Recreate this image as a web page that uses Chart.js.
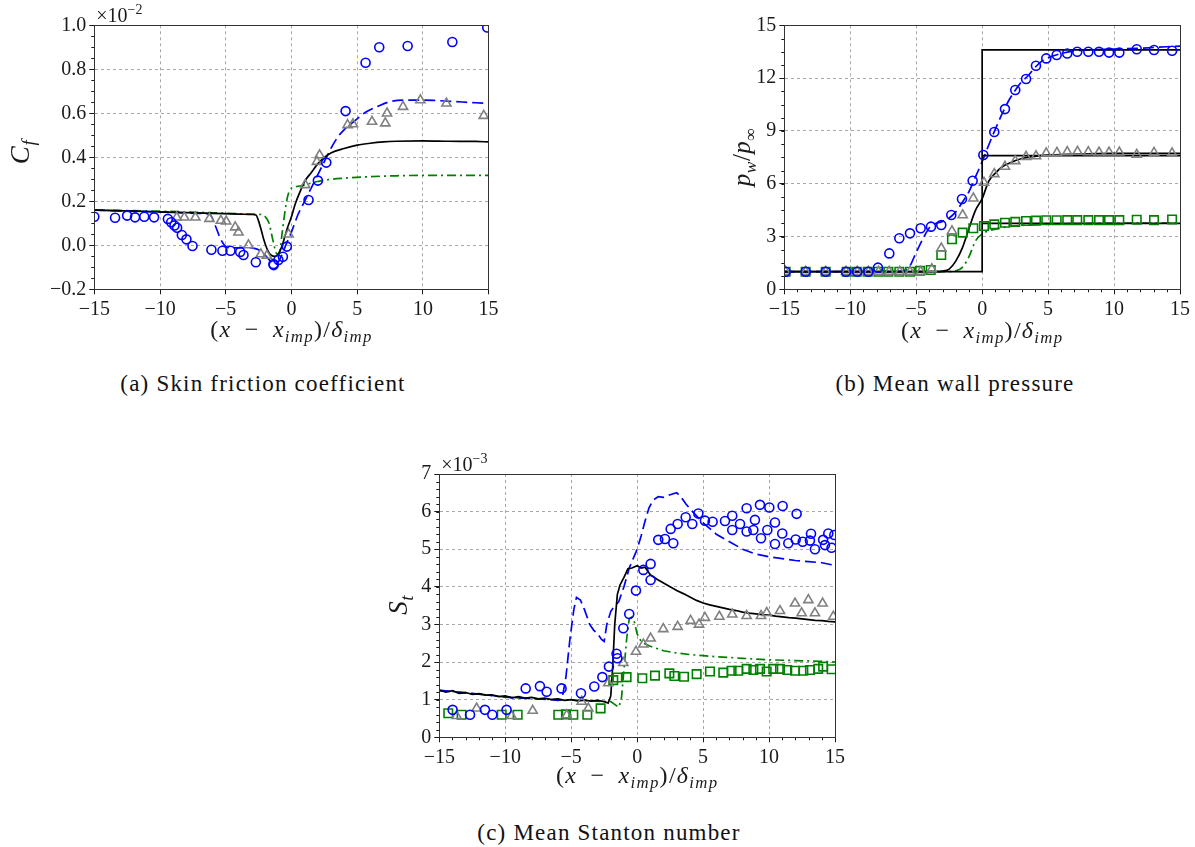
<!DOCTYPE html>
<html lang="en">
<head>
<meta charset="UTF-8">
<title>Skin friction, wall pressure and Stanton number</title>
<script src="https://cdn.jsdelivr.net/npm/chart.js"></script>
<style>
  body { margin: 0; width: 1195px; height: 847px; background: #fff; position: relative; overflow: hidden; }
  canvas { position: absolute; }
  .caption {
    position: absolute; transform: translateX(-50%); white-space: nowrap;
    font-family: 'Liberation Serif', serif; font-size: 23px; letter-spacing: 1.2px; color: #111;
  }
</style>
</head>
<body>
<canvas id="cf" width="505" height="350" style="left:0;top:0"></canvas>
<canvas id="pw" width="505" height="350" style="left:690px;top:0"></canvas>
<canvas id="st" width="510" height="370" style="left:345px;top:440px"></canvas>
<div class="caption" style="left:263px;top:371px">(a) Skin friction coefficient</div>
<div class="caption" style="left:955px;top:371px">(b) Mean wall pressure</div>
<div class="caption" style="left:609px;top:820px">(c) Mean Stanton number</div>

<script>
// ---- (a) skin friction coefficient, x1e-2 ----
const cfSolidX = [-15, -12, -9, -6, -4, -3, -2.7, -2.5, -2.3, -2.1, -1.9, -1.7, -1.5, -1.3, -1.1, -0.9, -0.7, -0.5, -0.3, 0, 0.3, 0.7, 1.0, 1.5, 2, 2.5, 3, 4, 5, 6, 7, 8, 10, 12, 14, 15];
const cfSolidY = [0.16, 0.155, 0.15, 0.145, 0.142, 0.14, 0.138, 0.11, 0.07, 0.025, -0.01, -0.035, -0.046, -0.05, -0.047, -0.03, 0.0, 0.04, 0.08, 0.13, 0.19, 0.25, 0.29, 0.33, 0.37, 0.4, 0.42, 0.44, 0.455, 0.464, 0.47, 0.473, 0.475, 0.473, 0.472, 0.47];
const cfDashX = [-15, -12, -9, -7, -6.2, -5.8, -5.4, -5.0, -4.5, -4, -3.5, -3, -2.5, -2, -1.6, -1.3, -1.0, -0.7, -0.4, 0, 0.5, 1, 1.5, 2, 2.5, 3, 3.5, 4, 4.5, 5, 5.7, 6.5, 7.5, 9, 10, 11, 12.5, 14, 15];
const cfDashY = [0.16, 0.155, 0.15, 0.145, 0.14, 0.09, 0.03, -0.005, -0.012, -0.012, -0.01, -0.012, -0.02, -0.045, -0.072, -0.085, -0.075, -0.04, 0.005, 0.06, 0.14, 0.2, 0.26, 0.32, 0.38, 0.44, 0.49, 0.525, 0.55, 0.575, 0.607, 0.63, 0.653, 0.66, 0.66, 0.658, 0.653, 0.648, 0.645];
const cfDashDotX = [-15, -10, -6, -3, -2.3, -2.0, -1.7, -1.4, -1.1, -0.9, -0.7, -0.5, -0.3, 0, 0.5, 1, 2, 3, 4, 6, 8, 10, 12, 15];
const cfDashDotY = [0.16, 0.155, 0.148, 0.142, 0.14, 0.13, 0.1, 0.02, -0.04, -0.03, 0.06, 0.15, 0.22, 0.26, 0.268, 0.275, 0.29, 0.3, 0.305, 0.312, 0.316, 0.318, 0.318, 0.318];
const cfCircleX = [-15, -13.42, -12.5, -11.9, -11.2, -10.45, -9.4, -9.15, -8.9, -8.7, -8.34, -7.99, -7.53, -6.09, -5.25, -4.64, -3.9, -3.65, -2.71, -1.37, -1.35, -0.99, -0.65, -0.35, 1.3, 2.01, 2.65, 4.12, 5.64, 6.68, 8.84, 12.24, 14.9];
const cfCircleY = [0.13, 0.125, 0.135, 0.127, 0.13, 0.127, 0.12, 0.105, 0.09, 0.08, 0.047, 0.027, -0.003, -0.02, -0.025, -0.025, -0.03, -0.044, -0.077, -0.085, -0.09, -0.067, -0.052, -0.006, 0.206, 0.294, 0.376, 0.61, 0.83, 0.9, 0.906, 0.924, 0.99];
const cfTriangleX = [-8.73, -8.15, -7.31, -6.24, -5.37, -4.97, -4.28, -4.03, -3.27, -2.33, -1.87, -0.22, 1.05, 1.94, 2.14, 4.27, 4.68, 6.13, 7.14, 7.27, 8.49, 9.81, 11.79, 14.63];
const cfTriangleY = [0.127, 0.127, 0.127, 0.121, 0.112, 0.109, 0.082, 0.059, 0.001, -0.04, -0.047, 0.05, 0.274, 0.38, 0.41, 0.547, 0.551, 0.562, 0.555, 0.6, 0.63, 0.66, 0.645, 0.589];

// ---- (b) mean wall pressure ----
const pwStepX = [-15, 0, 0, 15];
const pwStepY = [1, 1, 13.6, 13.6];
const pwStepMidX = [0, 15];
const pwStepMidY = [7.6, 7.6];
const pwStepLowX = [0, 15];
const pwStepLowY = [3.75, 3.75];
const pwSolidX = [-15, -6, -3.5, -3, -2.5, -2, -1.5, -1, -0.5, 0, 0.5, 1, 1.5, 2, 3, 4, 5, 6, 8, 10, 15];
const pwSolidY = [1, 1, 1.0, 1.03, 1.15, 1.6, 2.35, 3.45, 4.5, 5.15, 6.15, 6.6, 6.95, 7.15, 7.43, 7.55, 7.62, 7.66, 7.7, 7.72, 7.72];
const pwDashX = [-15, -9, -6.5, -6, -5.5, -5, -4.4, -4, -3.5, -3, -2.5, -2, -1.5, -1, -0.5, 0, 0.5, 1, 1.5, 2, 2.5, 3, 3.5, 4, 4.5, 5, 6, 7, 8, 10, 12, 14, 15];
const pwDashY = [1, 1, 1, 1.05, 1.3, 2.1, 3.0, 3.5, 3.75, 3.85, 4.05, 4.4, 4.95, 5.55, 6.4, 7.25, 8.2, 9.1, 9.95, 10.7, 11.3, 11.8, 12.15, 12.6, 12.95, 13.15, 13.4, 13.55, 13.6, 13.65, 13.7, 13.78, 13.82];
const pwDashDotX = [-15, -6, -3, -2.5, -2, -1.5, -1, -0.5, 0, 0.5, 1, 1.5, 2, 3, 4, 5, 7, 10, 15];
const pwDashDotY = [1, 1, 1, 1.0, 1.05, 1.25, 1.85, 2.75, 3.15, 3.32, 3.42, 3.5, 3.56, 3.63, 3.68, 3.71, 3.73, 3.75, 3.77];
const pwCircleX = [-14.9, -13.38, -11.86, -10.32, -9.47, -8.63, -7.9, -7.04, -6.28, -5.47, -4.66, -3.88, -3.1, -2.34, -1.53, -0.72, 0.09, 0.92, 1.73, 2.51, 3.33, 4.08, 4.86, 5.65, 6.45, 7.21, 8.05, 8.86, 9.62, 10.4, 11.72, 13.03, 14.4];
const pwCircleY = [1.0, 1.0, 1.0, 1.0, 1.0, 1.0, 1.23, 2.04, 2.9, 3.18, 3.47, 3.56, 3.65, 4.22, 5.13, 6.17, 7.63, 8.94, 10.24, 11.32, 11.95, 12.7, 13.12, 13.31, 13.4, 13.5, 13.5, 13.5, 13.45, 13.45, 13.64, 13.6, 13.55];
const pwTriangleX = [-14.9, -13.38, -11.86, -10.32, -9.47, -8.63, -7.85, -7.05, -6.25, -5.47, -4.66, -3.82, -3.1, -2.29, -1.48, -0.67, 0.14, 0.92, 1.73, 2.51, 3.33, 4.08, 4.86, 5.67, 6.45, 7.23, 8.05, 8.86, 9.62, 10.4, 11.72, 13.03, 14.4];
const pwTriangleY = [1, 1, 1, 1, 1, 1, 1, 1, 1, 1, 1, 1.15, 2.33, 3.31, 4.22, 5.17, 6.06, 6.55, 6.97, 7.29, 7.53, 7.57, 7.73, 7.76, 7.8, 7.82, 7.8, 7.78, 7.78, 7.78, 7.65, 7.76, 7.73];
const pwSquareX = [-14.9, -13.38, -11.86, -10.27, -9.51, -8.68, -7.87, -7.11, -6.28, -5.47, -4.71, -3.9, -3.1, -2.29, -1.48, -0.67, 0.14, 0.92, 1.73, 2.51, 3.33, 4.08, 4.86, 5.65, 6.45, 7.21, 8.05, 8.86, 9.62, 10.4, 11.72, 13.03, 14.4];
const pwSquareY = [1, 1, 1, 1, 1, 1, 1, 1, 1, 1, 1.05, 1.1, 1.95, 2.84, 3.22, 3.47, 3.6, 3.69, 3.78, 3.83, 3.88, 3.9, 3.92, 3.92, 3.93, 3.93, 3.93, 3.93, 3.93, 3.93, 3.95, 3.93, 3.97];

// ---- (c) mean Stanton number, x1e-3 ----
const stSolidX = [-15, -14.5, -14, -13.5, -13, -12.5, -12, -11.5, -11, -10.5, -10, -9.5, -9, -8.5, -8, -7.5, -7, -6.5, -6, -5.5, -5, -4.5, -4, -3.5, -3, -2.5, -2.2, -2.0, -1.85, -1.7, -1.5, -1.3, -1.0, -0.7, -0.4, 0, 0.3, 0.6, 1, 1.5, 2, 2.5, 3, 3.5, 4, 4.5, 5, 5.5, 6, 6.5, 7, 7.5, 8, 8.5, 9, 9.5, 10, 10.5, 11, 11.5, 12, 12.5, 13, 13.5, 14, 14.5, 15];
const stSolidY = [1.25, 1.2, 1.24, 1.17, 1.19, 1.14, 1.16, 1.12, 1.13, 1.08, 1.1, 1.05, 1.08, 1.04, 1.06, 1.02, 1.04, 1.0, 1.02, 0.98, 1.0, 0.97, 0.99, 0.96, 0.98, 0.95, 0.91, 1.1, 1.9, 3.0, 3.8, 4.05, 4.25, 4.48, 4.5, 4.56, 4.5, 4.52, 4.32, 4.2, 4.1, 4.0, 3.9, 3.82, 3.73, 3.64, 3.57, 3.52, 3.48, 3.44, 3.4, 3.37, 3.33, 3.3, 3.28, 3.26, 3.25, 3.22, 3.2, 3.18, 3.17, 3.15, 3.13, 3.11, 3.1, 3.08, 3.07];
const stDashX = [-15, -12, -10, -8, -6.5, -6, -5.7, -5.4, -5.1, -4.8, -4.6, -4.3, -4.0, -3.6, -3.3, -3.0, -2.7, -2.5, -2.3, -2.0, -1.7, -1.4, -1.0, -0.6, -0.3, 0, 0.3, 0.6, 0.9, 1.2, 1.6, 2.0, 2.5, 3.0, 3.3, 3.7, 4.2, 5, 6, 7, 8, 9, 10, 11, 12, 13, 14, 15];
const stDashY = [1.25, 1.15, 1.07, 1.03, 1.0, 0.98, 1.0, 1.6, 2.6, 3.4, 3.72, 3.65, 3.4, 3.0, 2.85, 2.75, 2.6, 2.55, 3.0, 3.35, 3.5, 3.6, 4.0, 4.5, 4.75, 5.0, 5.35, 5.75, 6.1, 6.3, 6.4, 6.38, 6.45, 6.5, 6.4, 6.2, 6.0, 5.7, 5.4, 5.2, 5.0, 4.87, 4.8, 4.75, 4.7, 4.67, 4.64, 4.57];
const stDashDotX = [-15, -12, -10, -8, -6, -4, -2.5, -2.0, -1.6, -1.4, -1.2, -1.0, -0.8, -0.6, -0.4, -0.2, 0, 0.3, 0.6, 1, 1.5, 2, 3, 4, 5, 6, 7, 8, 10, 12, 14, 15];
const stDashDotY = [1.25, 1.15, 1.07, 1.03, 1.0, 0.98, 0.95, 0.95, 0.85, 0.8, 1.0, 1.8, 2.6, 3.15, 3.2, 3.05, 2.75, 2.55, 2.48, 2.42, 2.36, 2.3, 2.24, 2.2, 2.17, 2.14, 2.12, 2.1, 2.06, 2.04, 2.02, 2.0];
const stCircleX = [-13.99, -12.67, -11.54, -10.98, -9.9, -8.45, -7.37, -6.86, -5.73, -4.26, -3.25, -2.64, -2.14, -1.56, -1.5, -1.05, -0.6, -0.09, 0.47, 1.02, 1.02, 1.6, 2.11, 2.74, 2.54, 3.07, 3.68, 4.18, 4.64, 5.14, 5.72, 6.66, 7.21, 7.21, 7.8, 8.3, 8.3, 8.93, 8.81, 9.31, 9.39, 10.02, 9.87, 10.45, 10.45, 11.03, 11.0, 11.46, 12.09, 12.02, 12.55, 13.1, 13.18, 13.48, 14.1, 14.49, 14.24, 14.74, 14.95];
const stCircleY = [0.73, 0.6, 0.73, 0.6, 0.73, 1.3, 1.36, 1.21, 1.3, 1.17, 1.35, 1.6, 1.88, 2.22, 2.1, 2.9, 3.28, 3.9, 4.45, 4.61, 4.18, 5.25, 5.27, 5.16, 5.54, 5.67, 5.85, 5.67, 5.95, 5.76, 5.73, 5.75, 5.89, 5.51, 5.67, 6.09, 5.47, 5.78, 5.51, 6.18, 5.29, 6.11, 5.51, 5.71, 5.14, 6.15, 5.42, 5.16, 5.94, 5.26, 5.2, 5.23, 5.41, 5.0, 5.25, 5.42, 5.11, 5.04, 5.38];
const stTriangleX = [-13.69, -12.17, -9.52, -7.92, -5.34, -4.21, -3.7, -2.19, -1.05, -0.09, 0.47, 1.02, 1.98, 3.07, 4.05, 4.69, 5.14, 6.23, 7.21, 8.3, 9.39, 9.82, 10.83, 11.97, 12.47, 12.98, 13.48, 14.06, 14.87];
const stTriangleY = [0.57, 0.77, 0.57, 0.71, 0.59, 0.95, 0.77, 1.44, 1.98, 2.28, 2.47, 2.63, 2.88, 2.94, 3.1, 3.0, 3.18, 3.21, 3.27, 3.23, 3.23, 3.31, 3.36, 3.56, 3.3, 3.65, 3.3, 3.56, 3.21];
const stSquareX = [-14.32, -13.31, -10.27, -9.06, -5.98, -5.4, -4.84, -3.78, -2.77, -1.81, -1.5, -0.8, 0.39, 1.35, 2.44, 2.82, 3.55, 4.51, 5.52, 6.53, 7.16, 7.67, 8.3, 8.81, 9.31, 9.82, 10.32, 10.83, 11.38, 11.97, 12.6, 13.1, 13.73, 14.1, 14.74];
const stSquareY = [0.64, 0.6, 0.6, 0.6, 0.6, 0.61, 0.6, 0.6, 0.77, 1.52, 1.59, 1.6, 1.57, 1.64, 1.7, 1.63, 1.61, 1.68, 1.75, 1.72, 1.77, 1.77, 1.82, 1.79, 1.82, 1.75, 1.82, 1.82, 1.79, 1.77, 1.77, 1.79, 1.82, 1.88, 1.81];

const ink = '#1a1a1a';
const serif = "'Liberation Serif', serif";
const BLUE = '#0000ff', GREEN = '#008000', GREY = '#808080', BLACK = '#000000';
const DASH = [11, 5], DASHDOT = [9, 4, 2, 4];

const pts = (xs, ys) => xs.map((x, i) => ({ x, y: ys[i] }));

function line(xs, ys, color, dash, smooth) {
  return {
    data: pts(xs, ys), showLine: true, borderColor: color, borderWidth: 1.7,
    borderDash: dash || [], pointRadius: 0, fill: false, clip: 0, order: 2,
    cubicInterpolationMode: smooth ? 'monotone' : 'default'
  };
}

function marks(xs, ys, color, style, r) {
  return {
    data: pts(xs, ys), showLine: false, pointStyle: style, pointRadius: r,
    pointBorderColor: color, pointBackgroundColor: 'rgba(0,0,0,0)', pointBorderWidth: 1.6,
    clip: 0, order: 1
  };
}

// text made of italic/roman runs, shift: 1 = subscript, -1 = superscript
function drawRuns(ctx, runs, x, y, size, align, rotate, spacing) {
  ctx.save();
  ctx.letterSpacing = (spacing || 0) + 'px';
  const parts = runs.map(([t, it, shift]) => {
    const fs = shift ? size * 0.7 : size;
    const font = (it ? 'italic ' : '') + fs + 'px ' + serif;
    ctx.font = font;
    return { t, font, w: ctx.measureText(t).width, dy: shift > 0 ? size * 0.22 : shift < 0 ? -size * 0.42 : 0 };
  });
  const total = parts.reduce((s, p) => s + p.w, 0);
  ctx.translate(x, y);
  if (rotate) ctx.rotate(-Math.PI / 2);
  let cx = align === 'center' ? -total / 2 : 0;
  ctx.fillStyle = ink;
  ctx.textAlign = 'left';
  ctx.textBaseline = 'alphabetic';
  for (const p of parts) {
    ctx.font = p.font;
    ctx.fillText(p.t, cx, p.dy);
    cx += p.w;
  }
  ctx.restore();
}

const xTitle = [['(', 0, 0], ['x', 1, 0], ['\u2002\u2212\u2002', 0, 0], ['x', 1, 0], ['imp', 1, 1], [')/', 0, 0], ['\u03b4', 1, 0], ['imp', 1, 1]];

// minor ticks, full frame, axis titles and the power-of-ten label
const decor = {
  id: 'decor',
  afterDraw(chart, args, o) {
    const { ctx, chartArea: a, scales: { x, y } } = chart;
    ctx.save();
    ctx.strokeStyle = ink;
    ctx.lineWidth = 1;
    ctx.beginPath();
    if (o.xMinor) {
      for (let i = 0; x.min + i * o.xMinor <= x.max + 1e-9; i++) {
        const px = Math.round(x.getPixelForValue(x.min + i * o.xMinor)) + 0.5;
        ctx.moveTo(px, a.bottom);
        ctx.lineTo(px, a.bottom + 3);
      }
    }
    if (o.yMinor) {
      for (let i = 0; y.min + i * o.yMinor <= y.max + 1e-9; i++) {
        const py = Math.round(y.getPixelForValue(y.min + i * o.yMinor)) + 0.5;
        ctx.moveTo(a.left, py);
        ctx.lineTo(a.left - 3, py);
      }
    }
    ctx.stroke();
    ctx.strokeStyle = '#333';
    ctx.strokeRect(Math.round(a.left) + 0.5, Math.round(a.top) + 0.5, Math.round(a.width), Math.round(a.height));
    ctx.restore();

    drawRuns(ctx, xTitle, (a.left + a.right) / 2, o.xTitleY, 24, 'center', false, 1.3);
    drawRuns(ctx, o.yTitle, o.yTitleX, o.yTitleY, o.yTitleSize, 'center', true, 0.5);
    if (o.power) drawRuns(ctx, [['\u00d710', 0, 0], [o.power, 0, -1]], a.left + 2, a.top - 3, 20, 'left', false, 0);
  }
};

function fmt(v, dec) {
  if (Math.abs(v) < 1e-9) v = 0;
  return (v < 0 ? '\u2212' : '') + Math.abs(v).toFixed(dec);
}

function axis(r, dir, size) {
  return {
    type: 'linear', min: r.min, max: r.max,
    afterFit(s) { if (dir === 'x') s.height = size; else s.width = size; },
    grid: { color: '#a8a8a8', lineWidth: 1, tickLength: 5, tickColor: ink, tickWidth: 1 },
    border: { display: true, color: ink, width: 1, dash: [3, 3] },
    ticks: {
      stepSize: r.step, padding: 3, color: ink, maxRotation: 0, autoSkip: false,
      font: { family: serif, size: 20 },
      callback: v => fmt(v, r.dec)
    }
  };
}

function makeChart(id, cfg) {
  return new Chart(document.getElementById(id), {
    type: 'scatter',
    data: { datasets: cfg.datasets },
    options: {
      responsive: false, animation: false, devicePixelRatio: 1, events: [],
      layout: { padding: cfg.pad },
      plugins: { legend: { display: false }, tooltip: { enabled: false }, decor: cfg.decor },
      scales: { x: axis(cfg.x, 'x', cfg.xHeight), y: axis(cfg.y, 'y', cfg.yWidth) }
    },
    plugins: [decor]
  });
}

const xRange = { min: -15, max: 15, step: 5, dec: 0 };

function drawAll() {
  makeChart('cf', {
    pad: { left: 0, top: 25.3, right: 16.4, bottom: 0 },
    yWidth: 94.3, xHeight: 60.7,
    x: xRange, y: { min: -0.2, max: 1.0, step: 0.2, dec: 1 },
    decor: { yMinor: 0.05, xTitleY: 337, yTitle: [['C', 1, 0], ['f', 1, 1]], yTitleX: 29, yTitleY: 152, yTitleSize: 27, power: '\u22122' },
    datasets: [
      marks(cfCircleX, cfCircleY, BLUE, 'circle', 4.5),
      marks(cfTriangleX, cfTriangleY, GREY, 'triangle', 5.3),
      line(cfSolidX, cfSolidY, BLACK, null, true),
      line(cfDashX, cfDashY, BLUE, DASH, true),
      line(cfDashDotX, cfDashDotY, GREEN, DASHDOT, true)
    ]
  });

  makeChart('pw', {
    pad: { left: 0, top: 25.3, right: 15, bottom: 0 },
    yWidth: 94.3, xHeight: 60.7,
    x: xRange, y: { min: 0, max: 15, step: 3, dec: 0 },
    decor: { xMinor: 1, yMinor: 0.75, xTitleY: 338, yTitle: [['p', 1, 0], ['w', 1, 1], ['/', 0, 0], ['p', 1, 0], ['\u221e', 0, 1]], yTitleX: 60, yTitleY: 157, yTitleSize: 25 },
    datasets: [
      marks(pwCircleX, pwCircleY, BLUE, 'circle', 4.5),
      marks(pwTriangleX, pwTriangleY, GREY, 'triangle', 5.3),
      marks(pwSquareX, pwSquareY, GREEN, 'rect', 6),
      line(pwStepX, pwStepY, BLACK, null, false),
      line(pwStepMidX, pwStepMidY, BLACK, null, false),
      line(pwStepLowX, pwStepLowY, BLACK, null, false),
      line(pwSolidX, pwSolidY, BLACK, null, true),
      line(pwDashX, pwDashY, BLUE, DASH, true),
      line(pwDashDotX, pwDashDotY, GREEN, DASHDOT, true)
    ]
  });

  makeChart('st', {
    pad: { left: 0, top: 34, right: 20, bottom: 0 },
    yWidth: 94.3, xHeight: 72.7,
    x: xRange, y: { min: 0, max: 7, step: 1, dec: 0 },
    decor: { xMinor: 1, yMinor: 0.2, xTitleY: 343, yTitle: [['S', 1, 0], ['t', 1, 1]], yTitleX: 62, yTitleY: 165, yTitleSize: 27, power: '\u22123' },
    datasets: [
      marks(stCircleX, stCircleY, BLUE, 'circle', 4.5),
      marks(stTriangleX, stTriangleY, GREY, 'triangle', 5.3),
      marks(stSquareX, stSquareY, GREEN, 'rect', 6),
      line(stSolidX, stSolidY, BLACK, null, false),
      line(stDashX, stDashY, BLUE, DASH, false),
      line(stDashDotX, stDashDotY, GREEN, DASHDOT, false)
    ]
  });
}

// make sure the serif faces are ready before the canvases use them
Promise.all([
  document.fonts.load("20px 'Liberation Serif'"),
  document.fonts.load("italic 24px 'Liberation Serif'")
]).then(drawAll, drawAll);
</script>
</body>
</html>
